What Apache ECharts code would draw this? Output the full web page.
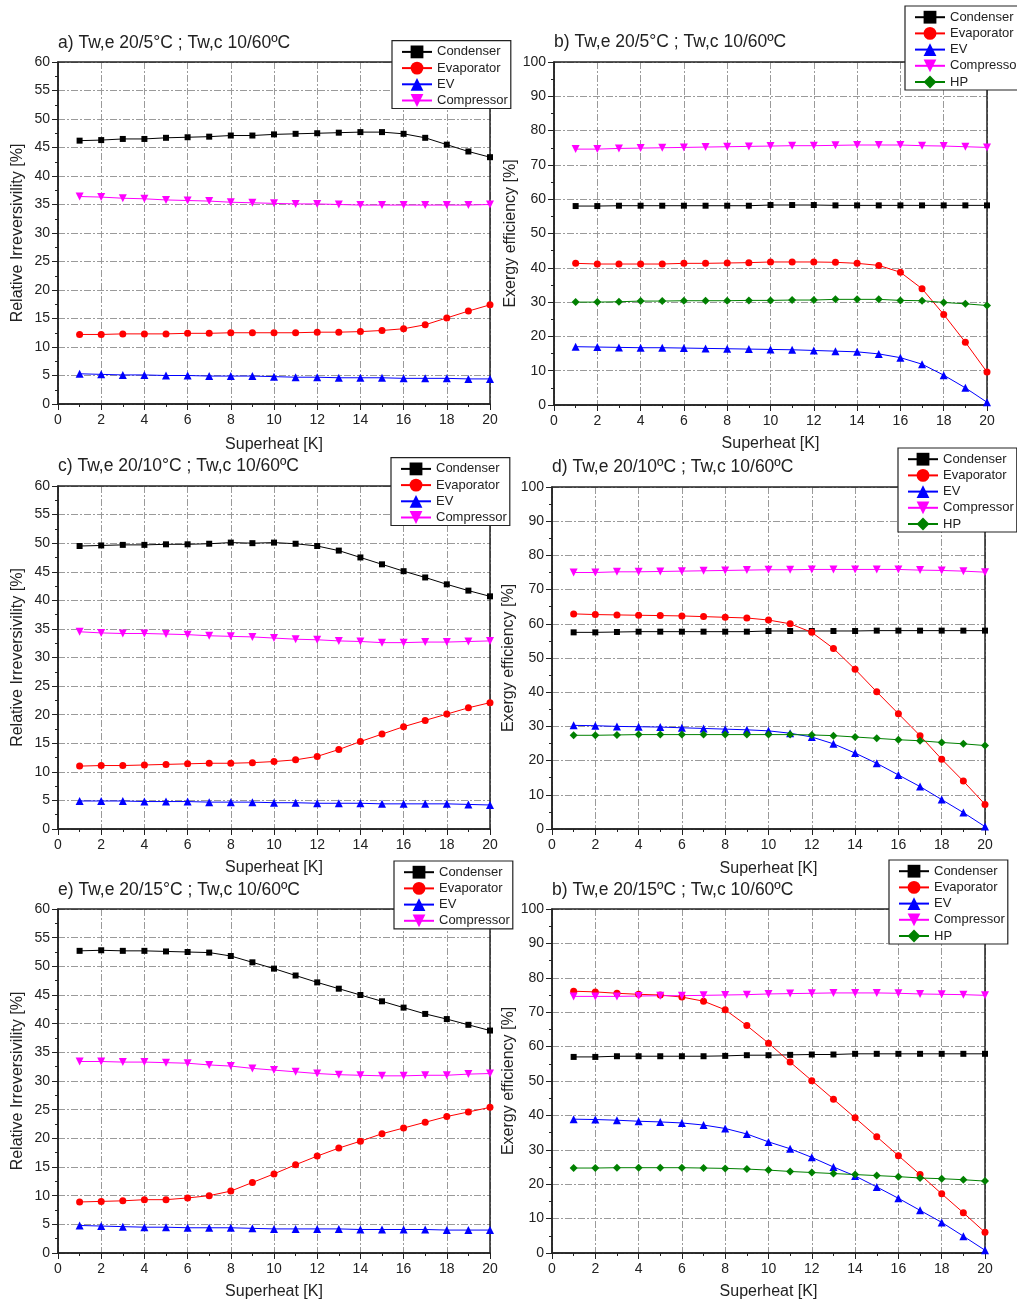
<!DOCTYPE html>
<html><head><meta charset="utf-8">
<script src="https://cdn.jsdelivr.net/npm/echarts@6/dist/echarts.min.js"></script>
<style>html,body{margin:0;padding:0;background:#fff}#c{width:1017px;height:1305px}</style>
</head><body><div id="c"></div>
<script>
// ---- data ----
const superheat = [1,2,3,4,5,6,7,8,9,10,11,12,13,14,15,16,17,18,19,20];
const xTicks = [0,2,4,6,8,10,12,14,16,18,20];
const irrTicks = [0,5,10,15,20,25,30,35,40,45,50,55,60];
const effTicks = [0,10,20,30,40,50,60,70,80,90,100];

const titleA = 'a) Tw,e 20/5°C ; Tw,c 10/60ºC';
const titleB = 'b) Tw,e 20/5°C ; Tw,c 10/60ºC';
const titleC = 'c) Tw,e 20/10°C ; Tw,c 10/60ºC';
const titleD = 'd) Tw,e 20/10ºC ; Tw,c 10/60ºC';
const titleE = 'e) Tw,e 20/15°C ; Tw,c 10/60ºC';
const titleF = 'b) Tw,e 20/15ºC ; Tw,c 10/60ºC';
const xName = 'Superheat [K]';
const yNameIrr = 'Relative Irreversivility [%]';
const yNameEff = 'Exergy efficiency [%]';

// a) relative irreversibility, Tw,e 20/5
const condA = [46.2,46.3,46.5,46.5,46.7,46.8,46.9,47.1,47.1,47.3,47.4,47.5,47.6,47.7,47.7,47.4,46.7,45.5,44.3,43.3];
const evapA = [12.2,12.2,12.3,12.3,12.3,12.4,12.4,12.5,12.5,12.5,12.5,12.6,12.6,12.7,12.9,13.2,13.9,15.1,16.3,17.4];
const evA   = [5.3,5.2,5.1,5.1,5.0,5.0,4.9,4.9,4.9,4.8,4.7,4.7,4.6,4.6,4.6,4.5,4.5,4.5,4.4,4.4];
const compA = [36.4,36.3,36.1,36.0,35.8,35.7,35.6,35.4,35.3,35.2,35.1,35.1,35.0,34.9,34.9,34.9,34.9,34.9,34.9,35.0];
// b) exergy efficiency, Tw,e 20/5
const condB = [58.0,58.0,58.1,58.1,58.1,58.1,58.1,58.1,58.1,58.3,58.3,58.3,58.2,58.2,58.2,58.2,58.2,58.2,58.2,58.2];
const evapB = [41.3,41.1,41.1,41.1,41.1,41.3,41.3,41.4,41.5,41.7,41.7,41.7,41.6,41.3,40.7,38.7,33.9,26.4,18.3,9.6];
const evB   = [17.0,16.9,16.8,16.7,16.7,16.6,16.5,16.4,16.3,16.2,16.1,15.9,15.7,15.5,14.9,13.8,11.9,8.7,5.0,0.8];
const compB = [74.6,74.6,74.8,74.9,75.0,75.1,75.2,75.3,75.4,75.5,75.6,75.6,75.7,75.8,75.8,75.8,75.6,75.5,75.3,75.1];
const hpB   = [30.0,30.0,30.1,30.3,30.3,30.4,30.4,30.4,30.5,30.5,30.6,30.6,30.8,30.8,30.8,30.5,30.4,29.9,29.5,29.0];
// c) relative irreversibility, Tw,e 20/10
const condC = [49.5,49.6,49.7,49.7,49.8,49.8,49.9,50.1,50.0,50.1,49.9,49.5,48.7,47.5,46.3,45.1,44.0,42.8,41.7,40.7];
const evapC = [11.0,11.1,11.1,11.2,11.3,11.4,11.5,11.5,11.6,11.8,12.1,12.7,13.9,15.3,16.6,17.9,19.0,20.1,21.2,22.1];
const evC   = [4.9,4.9,4.9,4.8,4.8,4.8,4.7,4.7,4.7,4.6,4.6,4.5,4.5,4.5,4.4,4.4,4.4,4.4,4.3,4.2];
const compC = [34.5,34.3,34.2,34.2,34.1,34.0,33.8,33.7,33.6,33.4,33.2,33.1,32.9,32.8,32.6,32.6,32.7,32.7,32.8,32.9];
// d) exergy efficiency, Tw,e 20/10
const condD = [57.5,57.5,57.6,57.7,57.7,57.7,57.7,57.7,57.7,57.9,57.9,57.9,57.9,57.9,58.0,58.0,58.0,58.0,58.0,58.0];
const evapD = [62.9,62.7,62.6,62.5,62.4,62.3,62.1,61.9,61.7,61.1,60.0,57.5,52.8,46.7,40.1,33.7,27.3,20.4,14.0,7.2];
const evD   = [30.3,30.2,30.0,29.9,29.8,29.6,29.4,29.2,29.0,28.7,28.0,26.9,24.9,22.2,19.2,15.8,12.4,8.6,4.8,0.7];
const compD = [75.0,75.0,75.2,75.2,75.3,75.4,75.5,75.6,75.7,75.8,75.8,75.9,75.9,75.9,75.9,75.9,75.7,75.6,75.4,75.1];
const hpD   = [27.4,27.4,27.5,27.6,27.6,27.6,27.6,27.6,27.6,27.6,27.6,27.5,27.3,26.9,26.5,26.1,25.8,25.3,24.9,24.4];
// e) relative irreversibility, Tw,e 20/15
const condE = [52.7,52.8,52.7,52.7,52.6,52.5,52.4,51.8,50.7,49.6,48.4,47.2,46.1,45.0,43.9,42.8,41.7,40.8,39.8,38.8];
const evapE = [8.9,9.0,9.1,9.3,9.3,9.6,10.0,10.8,12.3,13.8,15.4,16.9,18.3,19.5,20.8,21.8,22.8,23.8,24.6,25.4];
const evE   = [4.8,4.7,4.6,4.5,4.5,4.4,4.4,4.4,4.3,4.2,4.2,4.2,4.2,4.1,4.1,4.1,4.1,4.0,4.0,4.0];
const compE = [33.4,33.4,33.3,33.3,33.2,33.1,32.8,32.6,32.2,31.9,31.6,31.3,31.1,31.0,30.9,30.9,31.0,31.0,31.2,31.3];
// f) exergy efficiency, Tw,e 20/15
const condF = [57.0,57.0,57.2,57.2,57.2,57.2,57.2,57.3,57.5,57.5,57.6,57.7,57.7,57.9,57.9,57.9,57.9,57.9,57.9,57.9];
const evapF = [76.1,75.9,75.5,75.2,75.0,74.4,73.2,70.7,66.1,61.0,55.5,50.1,44.7,39.3,33.8,28.3,22.8,17.2,11.7,6.0];
const evF   = [38.9,38.8,38.6,38.3,38.1,37.8,37.2,36.2,34.6,32.3,30.3,27.8,25.0,22.4,19.2,15.9,12.4,8.9,4.9,0.8];
const compF = [74.6,74.6,74.6,74.7,74.8,74.8,74.9,75.0,75.1,75.3,75.4,75.5,75.6,75.6,75.6,75.5,75.3,75.2,75.1,74.9];
const hpF   = [24.7,24.7,24.8,24.8,24.8,24.8,24.7,24.6,24.4,24.1,23.7,23.4,23.1,22.8,22.5,22.2,21.8,21.6,21.3,20.9];

// ---- styles / layout ----
const FONT = '"Liberation Sans", Arial, Helvetica, sans-serif';
const STYLE = {
  Condenser:  {color:'#000000', symbol:'rect', size:6},
  Evaporator: {color:'#ff0000', symbol:'circle', size:7},
  EV:         {color:'#0000ff', symbol:'triangle', size:8},
  Compressor: {color:'#ff00ff', symbol:'path://M0,0L10,0L5,10Z', size:8},
  HP:         {color:'#008000', symbol:'diamond', size:8}
};

const panels = [
  {title:titleA, tl:58, tt:34, grid:{left:58, top:62, width:432, height:342}, yTicks:irrTicks, yName:yNameIrr, yGap:32, xGap:33,
   legend:{left:392, top:40.7}, data:{Condenser:condA, Evaporator:evapA, EV:evA, Compressor:compA}},
  {title:titleB, tl:554, tt:33, grid:{left:554, top:62, width:433, height:343}, yTicks:effTicks, yName:yNameEff, yGap:33, xGap:31,
   legend:{left:905, top:6}, data:{Condenser:condB, Evaporator:evapB, EV:evB, Compressor:compB, HP:hpB}},
  {title:titleC, tl:58, tt:457, grid:{left:58, top:486, width:432, height:343}, yTicks:irrTicks, yName:yNameIrr, yGap:32, xGap:31,
   legend:{left:391, top:457.7}, data:{Condenser:condC, Evaporator:evapC, EV:evC, Compressor:compC}},
  {title:titleD, tl:552, tt:458, grid:{left:552, top:487, width:433, height:342}, yTicks:effTicks, yName:yNameEff, yGap:31, xGap:32,
   legend:{left:898, top:448}, data:{Condenser:condD, Evaporator:evapD, EV:evD, Compressor:compD, HP:hpD}},
  {title:titleE, tl:58, tt:881, grid:{left:58, top:909, width:432, height:344}, yTicks:irrTicks, yName:yNameIrr, yGap:32, xGap:31,
   legend:{left:394, top:861}, data:{Condenser:condE, Evaporator:evapE, EV:evE, Compressor:compE}},
  {title:titleF, tl:552, tt:881, grid:{left:552, top:909, width:433, height:344}, yTicks:effTicks, yName:yNameEff, yGap:31, xGap:31,
   legend:{left:889, top:860}, data:{Condenser:condF, Evaporator:evapF, EV:evF, Compressor:compF, HP:hpF}}
];

const axisCommon = {
  axisLine:{show:true, onZero:false, lineStyle:{color:'#222', width:1.5}},
  axisTick:{show:true, inside:false, length:6, lineStyle:{color:'#222', width:1}},
  minorTick:{show:true, splitNumber:2, length:3, lineStyle:{color:'#222', width:1}},
  axisLabel:{color:'#222', fontSize:14, fontFamily:FONT, margin:8},
  splitLine:{show:true, lineStyle:{color:'#9a9a9a', width:1, type:[7,2,2,2]}},
  nameTextStyle:{color:'#222', fontSize:16, fontFamily:FONT}
};

const option = {animation:false, backgroundColor:'#fff', title:[], grid:[], xAxis:[], yAxis:[], legend:[], series:[]};

panels.forEach((p, i) => {
  option.title.push({text:p.title, left:p.tl, top:p.tt, padding:0,
    textStyle:{fontSize:17.5, fontWeight:'normal', color:'#222', fontFamily:FONT}});
  option.grid.push(Object.assign({show:true, borderColor:'#222', borderWidth:1.5, z:1,
    backgroundColor:'transparent', containLabel:false, outerBoundsMode:'none'}, p.grid));
  option.xAxis.push(Object.assign({}, axisCommon, {
    type:'value', gridIndex:i, min:xTicks[0], max:xTicks[xTicks.length-1], interval:xTicks[1]-xTicks[0],
    name:xName, nameLocation:'middle', nameGap:p.xGap,
    axisLabel:Object.assign({}, axisCommon.axisLabel, {margin:9})
  }));
  option.yAxis.push(Object.assign({}, axisCommon, {
    type:'value', gridIndex:i, min:p.yTicks[0], max:p.yTicks[p.yTicks.length-1], interval:p.yTicks[1]-p.yTicks[0],
    name:p.yName, nameLocation:'middle', nameGap:p.yGap, nameRotate:90
  }));
  const names = Object.keys(p.data);
  option.legend.push({
    data:names, orient:'vertical', left:p.legend.left, top:p.legend.top,
    itemWidth:30, itemHeight:16, itemGap:3.2, padding:[4.7,3,1.5,9],
    borderColor:'#222', borderWidth:1.2, backgroundColor:'#fff', borderRadius:0,
    textStyle:{fontSize:13, color:'#222', fontFamily:FONT}, selectedMode:false, z:10
  });
  names.forEach(n => {
    const s = STYLE[n];
    option.series.push({
      name:n, type:'line', xAxisIndex:i, yAxisIndex:i,
      data:superheat.map((x, k) => [x, p.data[n][k]]),
      symbol:s.symbol, symbolSize:s.size, showSymbol:true, showAllSymbol:true,
      itemStyle:{color:s.color}, lineStyle:{color:s.color, width:1},
      emphasis:{disabled:true}, clip:true, z:3
    });
  });
});

const chart = echarts.init(document.getElementById('c'), null, {renderer:'canvas'});
chart.setOption(option);
</script></body></html>
